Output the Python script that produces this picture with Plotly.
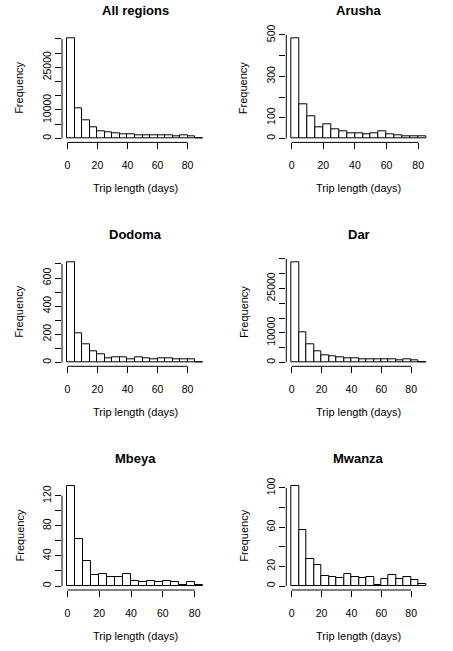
import plotly.graph_objects as go

# histogram counts per 5-day bin
bin_width = 5
panel_titles = ["All regions", "Arusha", "Dodoma", "Dar", "Mbeya", "Mwanza"]

all_regions = [35200, 10570, 6460, 3990, 2580, 2230, 1880, 1410, 1410,
               1060, 1060, 1060, 1060, 1060, 700, 1170, 820, 60]
arusha = [484, 165, 106, 55, 69, 45, 35, 26, 26, 21, 26, 35, 21, 16, 11, 11, 11]
dodoma = [712, 207, 128, 78, 57, 28, 36, 36, 21, 36, 28, 21, 28, 28, 21, 21, 21, 2]
dar = [33860, 10160, 6095, 3725, 2370, 2030, 1690, 1350, 1350,
       1015, 1015, 1015, 1015, 1015, 680, 1015, 680, 40]
mbeya = [133, 63, 33, 14, 16, 12, 12, 16, 6, 5, 6, 5, 6, 5, 2, 5, 2]
mwanza = [102, 57, 28, 21, 10, 9, 8, 12, 9, 8, 9, 1, 7, 11, 7, 9, 6, 2]

counts = [all_regions, arusha, dodoma, dar, mbeya, mwanza]

x_ticks = [0, 20, 40, 60, 80]
y_ticks = [
    [0, 5000, 10000, 15000, 20000, 25000, 30000, 35000],
    [0, 100, 200, 300, 400, 500],
    [0, 100, 200, 300, 400, 500, 600, 700],
    [0, 5000, 10000, 15000, 20000, 25000, 30000, 35000],
    [0, 20, 40, 60, 80, 100, 120],
    [0, 20, 40, 60, 80, 100],
]
# R drops overlapping labels, only these get printed
y_labels = [
    [0, 10000, 25000],
    [0, 100, 300, 500],
    [0, 200, 400, 600],
    [0, 10000, 25000],
    [0, 40, 80, 120],
    [0, 20, 60, 100],
]

W, H = 453, 651
cols_px = [(62, 208), (286.3, 431.5)]
rows_px = [(34.3, 142.4), (258.3, 366.3), (482, 590)]

fig = go.Figure()
font = "Liberation Sans, Arial, sans-serif"
shapes = []
annotations = []

for i, (title, c) in enumerate(zip(panel_titles, counts)):
    r, k = divmod(i, 2)
    n = i + 1
    xa = "xaxis" if n == 1 else f"xaxis{n}"
    ya = "yaxis" if n == 1 else f"yaxis{n}"
    xr = "x" if n == 1 else f"x{n}"
    yr = "y" if n == 1 else f"y{n}"

    mids = [bin_width * j + bin_width / 2 for j in range(len(c))]
    fig.add_trace(go.Bar(
        x=mids, y=c, width=bin_width, xaxis=xr, yaxis=yr,
        marker=dict(color="white", line=dict(color="black", width=1)),
        showlegend=False, hoverinfo="skip",
    ))

    xmax = bin_width * len(c)
    ymax = max(c)
    left, right = cols_px[k]
    top, bottom = rows_px[r]

    fig.layout[xa] = dict(
        domain=[left / W, right / W], anchor=yr, automargin=False,
        range=[-0.04 * xmax, 1.04 * xmax],
        tickvals=x_ticks, ticks="outside", ticklen=6, tickwidth=1, tickcolor="black",
        showline=False, showgrid=False, zeroline=False,
        ticklabelstandoff=7,
        tickfont=dict(family=font, size=10.5, color="black"),
    )
    fig.layout[ya] = dict(
        domain=[1 - bottom / H, 1 - top / H], anchor=xr, automargin=False,
        range=[-0.04 * ymax, 1.04 * ymax],
        tickvals=y_ticks[i],
        ticktext=[str(v) if v in y_labels[i] else "" for v in y_ticks[i]],
        tickangle=-90, ticks="outside", ticklen=6, tickwidth=1, tickcolor="black",
        showline=False, showgrid=False, zeroline=False,
        tickfont=dict(family=font, size=10.5, color="black"),
    )

    # axis lines only between first and last tick, like base R
    shapes.append(dict(type="line", xref=xr, yref=f"{yr} domain",
                       x0=x_ticks[0], x1=x_ticks[-1], y0=0, y1=0,
                       line=dict(color="black", width=1)))
    shapes.append(dict(type="line", xref=f"{xr} domain", yref=yr,
                       x0=0, x1=0, y0=y_ticks[i][0], y1=y_ticks[i][-1],
                       line=dict(color="black", width=1)))

    annotations.append(dict(text=f"<b>{title}</b>", xref=f"{xr} domain", yref=f"{yr} domain",
                            x=0.5, y=1, yshift=23.5, showarrow=False,
                            xanchor="center", yanchor="middle",
                            font=dict(family=font, size=13, color="black")))
    annotations.append(dict(text="Trip length (days)", xref=f"{xr} domain", yref=f"{yr} domain",
                            x=0.5, y=0, yshift=-46, showarrow=False,
                            xanchor="center", yanchor="middle",
                            font=dict(family=font, size=11, color="black")))
    annotations.append(dict(text="Frequency", xref=f"{xr} domain", yref=f"{yr} domain",
                            x=0, y=0.5, xshift=-42.5, textangle=-90, showarrow=False,
                            xanchor="center", yanchor="middle",
                            font=dict(family=font, size=11, color="black")))

fig.update_layout(
    width=W, height=H, margin=dict(l=0, r=0, t=0, b=0, autoexpand=False),
    paper_bgcolor="white", plot_bgcolor="white",
    bargap=0, shapes=shapes, annotations=annotations,
)

# drop the browser's default 8px body margin so the figure fills the window
fig.write_html("out.html", config={"displayModeBar": False},
               post_script="document.body.style.margin = '0';")
